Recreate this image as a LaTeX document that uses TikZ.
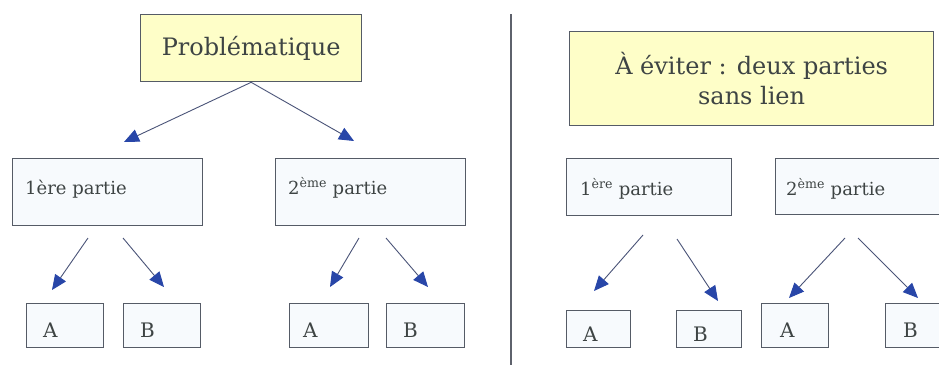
\documentclass[tikz,border=0pt]{standalone}
\usepackage{fontspec}
\setmainfont{DejaVu Serif}
\usetikzlibrary{arrows.meta}
\definecolor{boxline}{HTML}{555B66}
\definecolor{txt}{HTML}{3E4444}
\definecolor{paleyellow}{HTML}{FEFEC8}
\definecolor{paleblue}{HTML}{F7FAFD}
\definecolor{arrline}{HTML}{4A5478}
\definecolor{arrhead}{HTML}{2846A8}
\definecolor{divider}{HTML}{5E626C}
\tikzset{
  box/.style={draw=boxline, line width=1.3pt, fill=paleblue, inner sep=0pt, anchor=north west},
  titlebox/.style={box, fill=paleyellow},
  lbl/.style={text=txt, inner sep=0pt, anchor=base west, font=\fontsize{18}{21}\selectfont},
  ablbl/.style={lbl, font=\fontsize{20}{23}\selectfont},
  biglbl/.style={text=txt, inner sep=0pt, font=\fontsize{24}{30}\selectfont, align=center},
  arr/.style={draw=arrline, line width=0.9pt, -{Triangle[length=15pt,width=13pt,color=arrhead]}},
}
\begin{document}
\begin{tikzpicture}[x=1pt,y=-1pt]
\clip (0,0) rectangle (939,365);
\fill[white] (0,0) rectangle (939,365);

% ---------- left half ----------
\node[titlebox, minimum width=221pt, minimum height=67pt] (prob) at (140,14) {};
\node[biglbl] (probt) at (prob.center) {Problématique};

\node[box, minimum width=190pt, minimum height=67pt] (p1) at (12,158) {};
\node[lbl] (p1t) at (25,194) {1ère partie};
\node[box, minimum width=190pt, minimum height=67pt] (p2) at (275,158) {};
\node[lbl] (p2t) at (288,194) {2\textsuperscript{ème} partie};

\node[box, minimum width=77pt, minimum height=44pt] (a1) at (26,303) {};
\node[ablbl] (a1t) at (43,337) {A};
\node[box, minimum width=77pt, minimum height=44pt] (b1) at (123,303) {};
\node[ablbl] (b1t) at (140,337) {B};
\node[box, minimum width=79pt, minimum height=44pt] (a2) at (289,303) {};
\node[ablbl] (a2t) at (303,337) {A};
\node[box, minimum width=78pt, minimum height=44pt] (b2) at (386,303) {};
\node[ablbl] (b2t) at (403,337) {B};

\coordinate (e1) at (124,142);
\coordinate (e2) at (354,141);
\draw[arr] (prob.south) -- (e1);
\draw[arr] (prob.south) -- (e2);

\coordinate (s11) at (88,238);  \coordinate (e11) at (52,290);
\coordinate (s12) at (123,238); \coordinate (e12) at (164,287);
\coordinate (s21) at (359,238); \coordinate (e21) at (330,287);
\coordinate (s22) at (386,238); \coordinate (e22) at (428,287);
\draw[arr] (s11) -- (e11);
\draw[arr] (s12) -- (e12);
\draw[arr] (s21) -- (e21);
\draw[arr] (s22) -- (e22);

% ---------- divider ----------
\coordinate (dtop) at (511,14);
\coordinate (dbot) at (511,365);
\draw[divider, line width=1.4pt] (dtop) -- (dbot);

% ---------- right half ----------
\node[titlebox, minimum width=364pt, minimum height=94pt] (avoid) at (569,31) {};
\node[biglbl] (avoidt) at (avoid.center) {À éviter : deux parties\\sans lien};

\node[box, minimum width=165pt, minimum height=57pt] (q1) at (566,158) {};
\node[lbl] (q1t) at (580,195) {1\textsuperscript{ère} partie};
\node[box, minimum width=190pt, minimum height=56pt] (q2) at (775,158) {};
\node[lbl] (q2t) at (786,195) {2\textsuperscript{ème} partie};

\node[box, minimum width=64pt, minimum height=37pt] (qa1) at (566,310) {};
\node[ablbl] (qa1t) at (583,341) {A};
\node[box, minimum width=65pt, minimum height=37pt] (qb1) at (676,310) {};
\node[ablbl] (qb1t) at (693,341) {B};
\node[box, minimum width=67pt, minimum height=44pt] (qa2) at (761,303) {};
\node[ablbl] (qa2t) at (780,337) {A};
\node[box, minimum width=80pt, minimum height=44pt] (qb2) at (885,303) {};
\node[ablbl] (qb2t) at (903,337) {B};

\coordinate (r11) at (643,235); \coordinate (f11) at (594,291);
\coordinate (r12) at (677,239); \coordinate (f12) at (718,301);
\coordinate (r21) at (845,238); \coordinate (f21) at (789,298);
\coordinate (r22) at (858,238); \coordinate (f22) at (918,298);
\draw[arr] (r11) -- (f11);
\draw[arr] (r12) -- (f12);
\draw[arr] (r21) -- (f21);
\draw[arr] (r22) -- (f22);
\end{tikzpicture}
\end{document}
